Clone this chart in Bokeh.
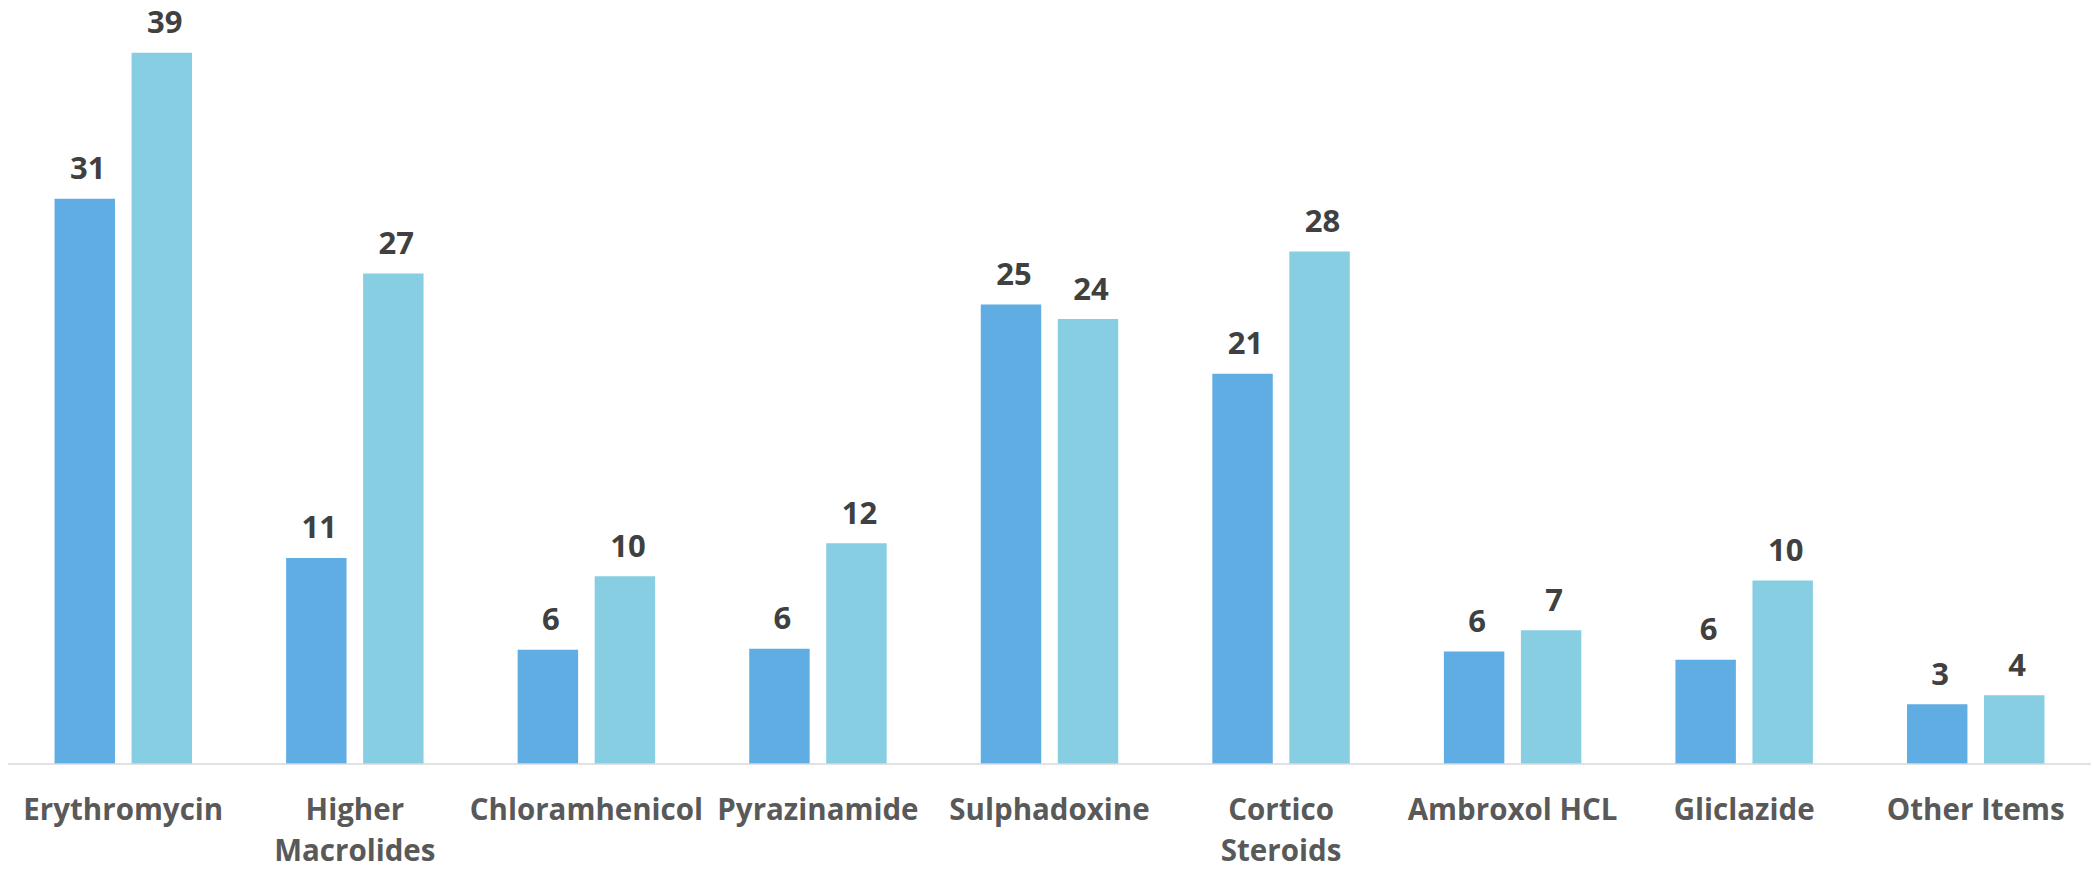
from bokeh.plotting import figure
from bokeh.models import ColumnDataSource, FactorRange, Range1d, LabelSet, Span
from bokeh.core.properties import value
from bokeh.transform import dodge
from bokeh.embed import file_html
from bokeh.resources import INLINE

categories = ["Erythromycin", "Higher\nMacrolides", "Chloramhenicol", "Pyrazinamide",
              "Sulphadoxine", "Cortico\nSteroids", "Ambroxol HCL", "Gliclazide", "Other Items"]
series_a = [31.0, 11.3, 6.26, 6.32, 25.2, 21.4, 6.17, 5.72, 3.28]
series_b = [39.0, 26.9, 10.3, 12.1, 24.4, 28.1, 7.33, 10.06, 3.77]
labels_a = [f"{v:.0f}" for v in series_a]
labels_b = [f"{v:.0f}" for v in series_b]

color_a = "#5FADE3"
color_b = "#87CEE3"
font = value("Open Sans")

line1 = [c.split("\n")[0] for c in categories]
line2 = [c.split("\n")[1] if "\n" in c else "" for c in categories]

source = ColumnDataSource(dict(cat=categories, a=series_a, b=series_b,
                               la=labels_a, lb=labels_b, l1=line1, l2=line2,
                               zero=[0] * len(categories)))

# frame reaches the bottom of the figure; the value axis spans 0..41.43 above the baseline
y_top = 41.43
px_per_unit = 18.236
height = 869
border_top = 8
y_bottom = y_top - (height - border_top) / px_per_unit

p = figure(x_range=FactorRange(factors=categories, range_padding=0),
           y_range=Range1d(y_bottom, y_top),
           width=2091, height=height, output_backend="svg", toolbar_location=None,
           min_border_left=7, min_border_right=0, min_border_top=border_top, min_border_bottom=0,
           outline_line_color=None, background_fill_color="white")

off = 0.1663
w = 0.261
p.vbar(x=dodge("cat", -off, range=p.x_range), top="a", bottom=0, width=w, source=source,
       fill_color=color_a, line_color=None)
p.vbar(x=dodge("cat", off, range=p.x_range), top="b", bottom=0, width=w, source=source,
       fill_color=color_b, line_color=None)

p.add_layout(Span(location=0, dimension="width", line_color="#D9D9D9", line_width=1.5))

for col, ycol, dx in (("la", "a", -off), ("lb", "b", off)):
    ls = LabelSet(x=dodge("cat", dx, range=p.x_range), y=ycol,
                  text=col, source=source, text_align="center", text_baseline="alphabetic",
                  y_offset=19.5, x_offset=3, text_font=font, text_font_style="bold",
                  text_font_size="31px", text_color="#404040")
    p.add_layout(ls)

for col, yoff in (("l1", -24), ("l2", -65)):
    cl = LabelSet(x="cat", y="zero", text=col, source=source, text_align="center",
                  text_baseline="top", y_offset=yoff, text_font=font, text_font_style="bold",
                  text_font_size="29.5px", text_color="#595959")
    p.add_layout(cl)

p.xgrid.visible = False
p.ygrid.visible = False
p.xaxis.visible = False
p.yaxis.visible = False

open("out.html", "w").write(file_html(p, INLINE))
